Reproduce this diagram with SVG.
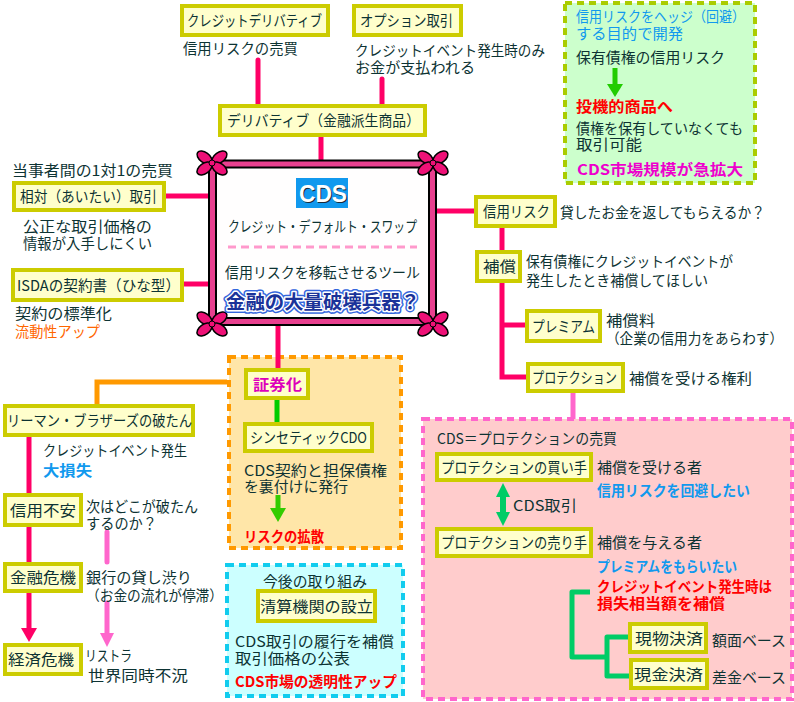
<svg xmlns="http://www.w3.org/2000/svg" xmlns:xlink="http://www.w3.org/1999/xlink" width="794" height="702" viewBox="0 0 794 702">
<style>
.t{font-family:"Noto Sans CJK JP","Noto Sans",sans-serif;font-size:14.5px;fill:#0d3333}
.b{font-family:"Noto Sans CJK JP","Noto Sans",sans-serif;font-size:15px;fill:#0d3333}
.box{fill:#ffffcc;stroke:#cccc00;stroke-width:4}
.c{stroke:#ff0066;stroke-width:5;fill:none}
.lp{stroke:#ff66cc;stroke-width:5;fill:none}
.blue{fill:#1199ee}
.red{fill:#ff0000;font-weight:bold}
.bold{font-weight:bold}
</style>
<defs>
<g id="flower">
<ellipse cx="-7.5" cy="-5.5" rx="8.5" ry="5" transform="rotate(36 -7.5 -5.5)" fill="#ee1177" stroke="#000" stroke-width="1.5"/>
<ellipse cx="7.5" cy="-5.5" rx="8.5" ry="5" transform="rotate(-36 7.5 -5.5)" fill="#ee1177" stroke="#000" stroke-width="1.5"/>
<ellipse cx="-7.5" cy="5.5" rx="8.5" ry="5" transform="rotate(-36 -7.5 5.5)" fill="#ee1177" stroke="#000" stroke-width="1.5"/>
<ellipse cx="7.5" cy="5.5" rx="8.5" ry="5" transform="rotate(36 7.5 5.5)" fill="#ee1177" stroke="#000" stroke-width="1.5"/>
<circle cx="0" cy="0" r="3" fill="#ee1177" stroke="#000" stroke-width="1"/>
</g>
</defs>
<rect width="794" height="702" fill="#ffffff"/>

<!-- background panels -->
<g id="panel-green">
<rect x="565" y="3" width="190" height="180" fill="#ccffcc" stroke="#aacc00" stroke-width="4" stroke-dasharray="7 5"/>
<text class="t blue" x="576" y="21.5" textLength="169" lengthAdjust="spacingAndGlyphs">信用リスクをヘッジ（回避）</text>
<text class="t blue" x="576" y="38.5" textLength="107" lengthAdjust="spacingAndGlyphs">する目的で開発</text>
<text class="t" x="576" y="63" textLength="149" lengthAdjust="spacingAndGlyphs">保有債権の信用リスク</text>
<line x1="615" y1="68" x2="615" y2="86" stroke="#22cc00" stroke-width="5"/>
<polygon points="607,84 623,84 615,97" fill="#22cc00"/>
<text class="t red" x="576" y="111.5" textLength="97" lengthAdjust="spacingAndGlyphs">投機的商品へ</text>
<text class="t" x="576" y="133.5" textLength="167" lengthAdjust="spacingAndGlyphs">債権を保有していなくても</text>
<text class="t" x="576" y="150" textLength="66" lengthAdjust="spacingAndGlyphs">取引可能</text>
<text class="t bold" x="577" y="175" fill="#ee00cc" style="fill:#ee00cc" textLength="166" lengthAdjust="spacingAndGlyphs">CDS市場規模が急拡大</text>
</g>
<g id="panel-orange">
<rect x="229" y="357" width="172" height="191" fill="#ffe6a8" stroke="#ff9900" stroke-width="4" stroke-dasharray="7 5"/>
</g>
<g id="panel-cyan">
<rect x="227" y="565" width="176" height="131" fill="#ccffff" stroke="#11ccee" stroke-width="4" stroke-dasharray="7 5"/>
</g>
<g id="panel-pink">
<rect x="423" y="419" width="369" height="280" fill="#ffcccc" stroke="#ff66cc" stroke-width="4" stroke-dasharray="7 5"/>
</g>

<!-- connectors -->
<g id="connectors">
<line class="c" x1="258" y1="60" x2="258" y2="104" stroke-linecap="round"/>
<line class="c" x1="382" y1="79" x2="382" y2="104" stroke-linecap="round"/>
<line class="c" x1="321" y1="137" x2="321" y2="162"/>
<line class="c" x1="166" y1="196" x2="210" y2="196"/>
<line class="c" x1="184" y1="284" x2="210" y2="284"/>
<line class="c" x1="435" y1="211" x2="474" y2="211"/>
<line class="c" x1="502" y1="228" x2="502" y2="250"/>
<polyline class="c" points="502,283 502,377 526,377"/>
<line class="c" x1="502" y1="325" x2="525" y2="325"/>
<line class="c" x1="278" y1="323" x2="278" y2="368"/>
<line class="lp" x1="573" y1="393" x2="573" y2="419"/>
<polyline points="227,382 97,382 97,404" stroke="#ff9900" stroke-width="5" fill="none"/>
<line x1="277" y1="400" x2="277" y2="422" stroke="#00cc00" stroke-width="5"/>
<line x1="278" y1="495" x2="278" y2="510" stroke="#33cc00" stroke-width="5"/>
<polygon points="270,508 286,508 278,522" fill="#33cc00"/>
<line class="c" x1="29" y1="437" x2="29" y2="493"/>
<line class="c" x1="29" y1="527" x2="29" y2="562"/>
<line class="c" x1="29" y1="593" x2="29" y2="630"/>
<polygon points="21,628 37,628 29,642" fill="#ff0066"/>
<line class="lp" x1="107" y1="532" x2="107" y2="562" stroke-linecap="round"/>
<line class="lp" x1="107" y1="603" x2="107" y2="635" stroke-linecap="round"/>
<polygon points="100,633 114,633 107,647" fill="#ff66cc"/>
<line x1="503" y1="494" x2="503" y2="515" stroke="#00cc66" stroke-width="6"/>
<polygon points="496,497 510,497 503,483" fill="#00cc66"/>
<polygon points="496,512 510,512 503,526" fill="#00cc66"/>
<polyline points="590,592 572,592 572,657 607,657" stroke="#00cc66" stroke-width="5" fill="none" stroke-linejoin="round"/>
<polyline points="630,637 607,637 607,676 630,676" stroke="#00cc66" stroke-width="5" fill="none" stroke-linejoin="round"/>
</g>

<!-- CDS center -->
<g id="cds">
<rect x="212.5" y="164" width="220" height="157.5" fill="#fffefe" stroke="#000" stroke-width="9"/>
<rect x="212.5" y="164" width="220" height="157.5" fill="none" stroke="#e8408f" stroke-width="5"/>
<use xlink:href="#flower" x="212" y="163"/>
<use xlink:href="#flower" x="433" y="163"/>
<use xlink:href="#flower" x="212" y="324"/>
<use xlink:href="#flower" x="433" y="324"/>
<rect x="296" y="178" width="52" height="30" fill="#1199ee"/>
<text x="323" y="202" text-anchor="middle" font-family="Liberation Sans, Arial, sans-serif" font-size="23" font-weight="bold" fill="#1a2a3a" textLength="48" lengthAdjust="spacingAndGlyphs" transform="translate(1 1)">CDS</text>
<text x="323" y="202" text-anchor="middle" font-family="Liberation Sans, Arial, sans-serif" font-size="23" font-weight="bold" fill="#ffffff" textLength="48" lengthAdjust="spacingAndGlyphs">CDS</text>
<text class="t" x="228" y="231.5" textLength="189" lengthAdjust="spacingAndGlyphs">クレジット・デフォルト・スワップ</text>
<line x1="228" y1="247" x2="417" y2="247" stroke="#ff99cc" stroke-width="3" stroke-dasharray="8 5"/>
<text class="t" x="225" y="277.5" textLength="195" lengthAdjust="spacingAndGlyphs">信用リスクを移転させるツール</text>
<text x="226" y="309" font-family="Noto Sans CJK JP, sans-serif" font-size="19" font-weight="bold" fill="#1a3399" stroke="#3366dd" stroke-width="6" stroke-linejoin="round" textLength="194" lengthAdjust="spacingAndGlyphs">金融の大量破壊兵器？</text>
<text x="226" y="309" font-family="Noto Sans CJK JP, sans-serif" font-size="19" font-weight="bold" fill="#1a3399" stroke="#ffffff" stroke-width="3" stroke-linejoin="round" paint-order="stroke" textLength="194" lengthAdjust="spacingAndGlyphs">金融の大量破壊兵器？</text>
</g>

<!-- top -->
<g id="n-creditderiv">
<rect class="box" x="182" y="6" width="146" height="29"/>
<text class="b" x="187" y="26" textLength="135" lengthAdjust="spacingAndGlyphs">クレジットデリバティブ</text>
<text class="t" x="183" y="54" textLength="115" lengthAdjust="spacingAndGlyphs">信用リスクの売買</text>
</g>
<g id="n-option">
<rect class="box" x="354" y="6" width="107" height="29"/>
<text class="b" x="360" y="26" textLength="93" lengthAdjust="spacingAndGlyphs">オプション取引</text>
<text class="t" x="355" y="55.5" textLength="190" lengthAdjust="spacingAndGlyphs">クレジットイベント発生時のみ</text>
<text class="t" x="355" y="73" textLength="120" lengthAdjust="spacingAndGlyphs">お金が支払われる</text>
</g>
<g id="n-deriv">
<rect class="box" x="220" y="106" width="205" height="29"/>
<text class="b" x="227" y="126" textLength="193" lengthAdjust="spacingAndGlyphs">デリバティブ（金融派生商品）</text>
</g>

<!-- left -->
<g id="n-aitai">
<text class="t" x="12" y="175.5" textLength="161" lengthAdjust="spacingAndGlyphs">当事者間の1対1の売買</text>
<rect class="box" x="14" y="183" width="150" height="27"/>
<text class="b" x="20" y="202" textLength="137" lengthAdjust="spacingAndGlyphs">相対（あいたい）取引</text>
<text class="t" x="23" y="231.5" textLength="129" lengthAdjust="spacingAndGlyphs">公正な取引価格の</text>
<text class="t" x="23" y="248.5" textLength="129" lengthAdjust="spacingAndGlyphs">情報が入手しにくい</text>
</g>
<g id="n-isda">
<rect class="box" x="13" y="270" width="169" height="30"/>
<text class="b" x="17" y="290.5" textLength="163" lengthAdjust="spacingAndGlyphs">ISDAの契約書（ひな型）</text>
<text class="t" x="15" y="318.5" textLength="97" lengthAdjust="spacingAndGlyphs">契約の標準化</text>
<text class="t" x="15" y="336.5" style="fill:#ff6600" textLength="85" lengthAdjust="spacingAndGlyphs">流動性アップ</text>
</g>

<!-- right -->
<g id="n-creditrisk">
<rect class="box" x="476" y="197" width="79" height="29"/>
<text class="b" x="483" y="217" textLength="67" lengthAdjust="spacingAndGlyphs">信用リスク</text>
<text class="t" x="560" y="217.5" textLength="205" lengthAdjust="spacingAndGlyphs">貸したお金を返してもらえるか？</text>
</g>
<g id="n-hosho">
<rect class="box" x="477" y="252" width="43" height="29"/>
<text class="b" x="483" y="272" textLength="33" lengthAdjust="spacingAndGlyphs">補償</text>
<text class="t" x="526" y="266.5" textLength="207" lengthAdjust="spacingAndGlyphs">保有債権にクレジットイベントが</text>
<text class="t" x="526" y="285.5" textLength="182" lengthAdjust="spacingAndGlyphs">発生したとき補償してほしい</text>
</g>
<g id="n-premium">
<rect class="box" x="527" y="311" width="73" height="30"/>
<text class="b" x="532" y="331.5" textLength="63" lengthAdjust="spacingAndGlyphs">プレミアム</text>
<text class="t" x="606" y="325.5" textLength="49" lengthAdjust="spacingAndGlyphs">補償料</text>
<text class="t" x="606" y="343.5" textLength="177" lengthAdjust="spacingAndGlyphs">（企業の信用力をあらわす）</text>
</g>
<g id="n-protection">
<rect class="box" x="528" y="364" width="95" height="27"/>
<text class="b" x="532" y="383" textLength="85" lengthAdjust="spacingAndGlyphs">プロテクション</text>
<text class="t" x="629" y="383.5" textLength="123" lengthAdjust="spacingAndGlyphs">補償を受ける権利</text>
</g>

<!-- orange panel contents -->
<g id="n-securitize">
<rect class="box" x="246" y="370" width="62" height="28"/>
<text class="b bold" x="253" y="389.5" style="fill:#dd00bb" textLength="49" lengthAdjust="spacingAndGlyphs">証券化</text>
</g>
<g id="n-synthetic">
<rect class="box" x="245" y="424" width="127" height="27"/>
<text class="b" x="250" y="443" textLength="117" lengthAdjust="spacingAndGlyphs">シンセティックCDO</text>
<text class="t" x="244" y="475.5" textLength="143" lengthAdjust="spacingAndGlyphs">CDS契約と担保債権</text>
<text class="t" x="244" y="491.5" textLength="104" lengthAdjust="spacingAndGlyphs">を裏付けに発行</text>
<text class="t red" x="244" y="541.5" textLength="80" lengthAdjust="spacingAndGlyphs">リスクの拡散</text>
</g>

<!-- cyan panel contents -->
<g id="n-clearing">
<text class="t" x="263" y="587" textLength="104" lengthAdjust="spacingAndGlyphs">今後の取り組み</text>
<rect class="box" x="258" y="591" width="117" height="30"/>
<text class="b" x="260" y="611.5" textLength="113" lengthAdjust="spacingAndGlyphs">清算機関の設立</text>
<text class="t" x="235" y="646.5" textLength="159" lengthAdjust="spacingAndGlyphs">CDS取引の履行を補償</text>
<text class="t" x="235" y="663.5" textLength="115" lengthAdjust="spacingAndGlyphs">取引価格の公表</text>
<text class="t red" x="235" y="686.5" textLength="162" lengthAdjust="spacingAndGlyphs">CDS市場の透明性アップ</text>
</g>

<!-- left column -->
<g id="n-lehman">
<rect class="box" x="5" y="406" width="188" height="29"/>
<text class="b" x="7" y="426" textLength="185" lengthAdjust="spacingAndGlyphs">リーマン・ブラザーズの破たん</text>
<text class="t" x="43" y="455.5" textLength="144" lengthAdjust="spacingAndGlyphs">クレジットイベント発生</text>
<text class="t bold" x="43" y="475.5" style="fill:#1199ee" textLength="49" lengthAdjust="spacingAndGlyphs">大損失</text>
</g>
<g id="n-fuan">
<rect class="box" x="5" y="495" width="76" height="30"/>
<text class="b" x="10" y="515.5" textLength="66" lengthAdjust="spacingAndGlyphs">信用不安</text>
<text class="t" x="86" y="512" textLength="112" lengthAdjust="spacingAndGlyphs">次はどこが破たん</text>
<text class="t" x="86" y="528.5" textLength="71" lengthAdjust="spacingAndGlyphs">するのか？</text>
</g>
<g id="n-kinyu">
<rect class="box" x="5" y="564" width="76" height="27"/>
<text class="b" x="10" y="583" textLength="66" lengthAdjust="spacingAndGlyphs">金融危機</text>
<text class="t" x="86" y="582.5" textLength="106" lengthAdjust="spacingAndGlyphs">銀行の貸し渋り</text>
<text class="t" x="86" y="600.5" textLength="137" lengthAdjust="spacingAndGlyphs">（お金の流れが停滞）</text>
</g>
<g id="n-keizai">
<rect class="box" x="5" y="645" width="76" height="29"/>
<text class="b" x="8" y="665" textLength="66" lengthAdjust="spacingAndGlyphs">経済危機</text>
<text class="t" x="85" y="660.5" textLength="47" lengthAdjust="spacingAndGlyphs">リストラ</text>
<text class="t" x="88" y="680.5" textLength="100" lengthAdjust="spacingAndGlyphs">世界同時不況</text>
</g>

<!-- pink panel contents -->
<g id="n-buyer">
<text class="t" x="437" y="443.5" textLength="180" lengthAdjust="spacingAndGlyphs">CDS＝プロテクションの売買</text>
<rect class="box" x="437" y="454" width="154" height="26"/>
<text class="b" x="441" y="472.5" textLength="146" lengthAdjust="spacingAndGlyphs">プロテクションの買い手</text>
<text class="t" x="597" y="472.5" textLength="105" lengthAdjust="spacingAndGlyphs">補償を受ける者</text>
<text class="t bold" x="597" y="495.5" style="fill:#1199ee" textLength="153" lengthAdjust="spacingAndGlyphs">信用リスクを回避したい</text>
<text class="t" x="513" y="510.5" textLength="64" lengthAdjust="spacingAndGlyphs">CDS取引</text>
</g>
<g id="n-seller">
<rect class="box" x="437" y="529" width="154" height="27"/>
<text class="b" x="441" y="548" textLength="146" lengthAdjust="spacingAndGlyphs">プロテクションの売り手</text>
<text class="t" x="597" y="548" textLength="105" lengthAdjust="spacingAndGlyphs">補償を与える者</text>
<text class="t bold" x="597" y="571.5" style="fill:#1199ee" textLength="140" lengthAdjust="spacingAndGlyphs">プレミアムをもらいたい</text>
<text class="t red" x="597" y="591.5" textLength="175" lengthAdjust="spacingAndGlyphs">クレジットイベント発生時は</text>
<text class="t red" x="597" y="609" textLength="128" lengthAdjust="spacingAndGlyphs">損失相当額を補償</text>
</g>
<g id="n-genbutsu">
<rect class="box" x="630" y="624" width="76" height="28"/>
<text class="b" x="635" y="643.5" textLength="68" lengthAdjust="spacingAndGlyphs">現物決済</text>
<text class="t" x="712" y="645.5" textLength="74" lengthAdjust="spacingAndGlyphs">額面ベース</text>
</g>
<g id="n-genkin">
<rect class="box" x="631" y="660" width="76" height="28"/>
<text class="b" x="634" y="679.5" textLength="69" lengthAdjust="spacingAndGlyphs">現金決済</text>
<text class="t" x="712" y="682.5" textLength="74" lengthAdjust="spacingAndGlyphs">差金ベース</text>
</g>
</svg>
